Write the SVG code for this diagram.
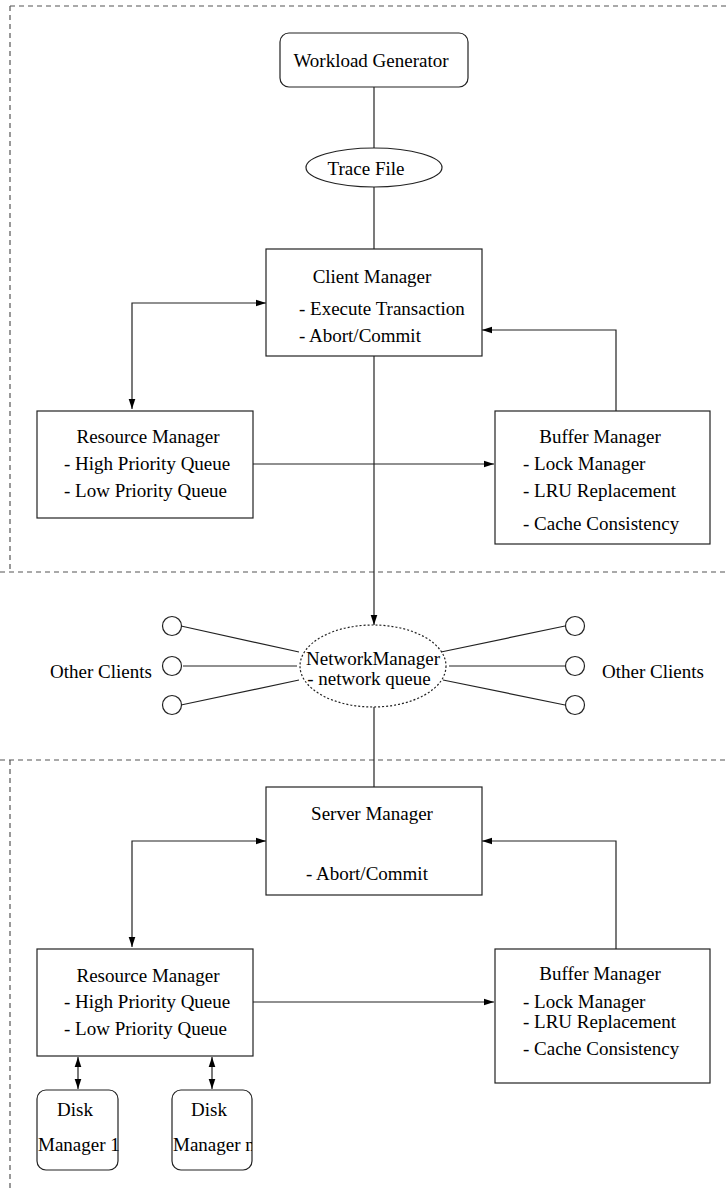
<svg xmlns="http://www.w3.org/2000/svg" width="727" height="1188" viewBox="0 0 727 1188">
<defs>
<style>
text{font-family:"Liberation Serif","Times New Roman",serif;font-size:19px;fill:#000}
.c{text-anchor:middle}
.box{fill:#fff;stroke:#222;stroke-width:1.2}
.ln{fill:none;stroke:#222;stroke-width:1.2}
.dash{fill:none;stroke:#555;stroke-width:1.2;stroke-dasharray:5 4}
</style>
<marker id="ah" viewBox="0 0 10 8" refX="10" refY="4" markerWidth="10" markerHeight="8" markerUnits="userSpaceOnUse" orient="auto-start-reverse">
<path d="M0,0.7 L10,4 L0,7.3 z" fill="#000"/>
</marker>
<clipPath id="clipn"><rect x="172" y="1090" width="80" height="80"/></clipPath>
</defs>
<rect width="727" height="1188" fill="#fff"/>
<g id="frames">
<path class="dash" d="M10,6 H727 M10,6 V572 M0,572 H727"/>
<path class="dash" d="M0,760 H727 M10,760 V1188"/>
</g>
<g id="connectors">
<path class="ln" d="M374,87 V148"/>
<path class="ln" d="M374,187 V249"/>
<path class="ln" d="M374,356 V625" marker-end="url(#ah)"/>
<path class="ln" d="M132,409 V303 H266" marker-start="url(#ah)" marker-end="url(#ah)"/>
<path class="ln" d="M616,411 V330 H482" marker-end="url(#ah)"/>
<path class="ln" d="M253,464 H494" marker-end="url(#ah)"/>
<path class="ln" d="M374,707 V787"/>
<path class="ln" d="M181,626 L299,652 M183,666 H297 M181,705 L299,680"/>
<path class="ln" d="M441,652 L565,626 M449,666 H565 M443,680 L565,705"/>
<path class="ln" d="M132,947 V841 H266" marker-start="url(#ah)" marker-end="url(#ah)"/>
<path class="ln" d="M616,949 V841 H482" marker-end="url(#ah)"/>
<path class="ln" d="M253,1002 H494" marker-end="url(#ah)"/>
<path class="ln" d="M78,1057 V1089" marker-start="url(#ah)" marker-end="url(#ah)"/>
<path class="ln" d="M212,1057 V1089" marker-start="url(#ah)" marker-end="url(#ah)"/>
</g>
<g id="workload-generator">
<rect class="box" x="280" y="33" width="188" height="54" rx="9"/>
<text class="c" x="371" y="67">Workload Generator</text>
</g>
<g id="trace-file">
<ellipse class="box" cx="374" cy="167.5" rx="68" ry="19.5"/>
<text class="c" x="366" y="175">Trace File</text>
</g>
<g id="client-manager">
<rect class="box" x="266" y="249" width="216" height="107"/>
<text class="c" x="372" y="283">Client Manager</text>
<text x="299" y="315">- Execute Transaction</text>
<text x="299" y="342">- Abort/Commit</text>
</g>
<g id="client-resource-manager">
<rect class="box" x="37" y="411" width="216" height="107"/>
<text class="c" x="148" y="443">Resource Manager</text>
<text x="64" y="470">- High Priority Queue</text>
<text x="64" y="497">- Low Priority Queue</text>
</g>
<g id="client-buffer-manager">
<rect class="box" x="495" y="411" width="215" height="133"/>
<text class="c" x="600" y="443">Buffer Manager</text>
<text x="523" y="470">- Lock Manager</text>
<text x="523" y="497">- LRU Replacement</text>
<text x="523" y="530">- Cache Consistency</text>
</g>
<g id="network-manager">
<ellipse cx="373" cy="666" rx="73" ry="41" fill="none" stroke="#222" stroke-width="1.2" stroke-dasharray="2 2"/>
<text class="c" x="373" y="665">NetworkManager</text>
<text class="c" x="369" y="685">- network queue</text>
</g>
<g id="other-clients-left">
<circle class="box" cx="172" cy="626" r="9.5"/>
<circle class="box" cx="172" cy="666" r="9.5"/>
<circle class="box" cx="172" cy="705" r="9.5"/>
<text x="50" y="678">Other Clients</text>
</g>
<g id="other-clients-right">
<circle class="box" cx="575" cy="626" r="9.5"/>
<circle class="box" cx="575" cy="666" r="9.5"/>
<circle class="box" cx="575" cy="705" r="9.5"/>
<text x="602" y="678">Other Clients</text>
</g>
<g id="server-manager">
<rect class="box" x="266" y="787" width="216" height="108"/>
<text class="c" x="372" y="820">Server Manager</text>
<text x="306" y="880">- Abort/Commit</text>
</g>
<g id="server-resource-manager">
<rect class="box" x="37" y="949" width="216" height="107"/>
<text class="c" x="148" y="982">Resource Manager</text>
<text x="64" y="1008">- High Priority Queue</text>
<text x="64" y="1035">- Low Priority Queue</text>
</g>
<g id="server-buffer-manager">
<rect class="box" x="495" y="949" width="215" height="134"/>
<text class="c" x="600" y="980">Buffer Manager</text>
<text x="523" y="1008">- Lock Manager</text>
<text x="523" y="1028">- LRU Replacement</text>
<text x="523" y="1055">- Cache Consistency</text>
</g>
<g id="disk-manager-1">
<rect class="box" x="37" y="1090" width="81" height="80" rx="9"/>
<text class="c" x="75" y="1116">Disk</text>
<text x="38" y="1151">Manager 1</text>
</g>
<g id="disk-manager-n">
<rect class="box" x="172" y="1090" width="80" height="80" rx="9"/>
<text class="c" x="209" y="1116">Disk</text>
<text x="173" y="1151" clip-path="url(#clipn)">Manager n</text>
</g>
</svg>
